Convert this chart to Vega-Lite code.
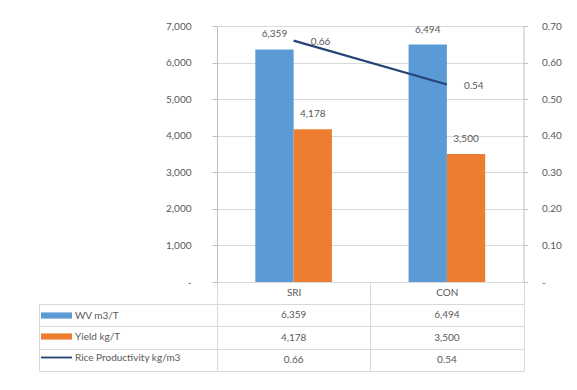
{
  "$schema": "https://vega.github.io/schema/vega-lite/v6.json",
  "background": "white",
  "padding": {"left": 38, "top": 21, "right": 8, "bottom": 8},
  "config": {
    "font": "Lato",
    "view": {"stroke": null},
    "axis": {"labelColor": "#595959", "labelFontSize": 10, "labelFont": "Lato"},
    "text": {"font": "Lato", "fontSize": 10, "color": "#595959"}
  },
  "datasets": {
    "rice": [
      {"system": "SRI", "series": "WV m3/T", "value": 6359},
      {"system": "SRI", "series": "Yield kg/T", "value": 4178},
      {"system": "SRI", "series": "Rice Productivity kg/m3", "value": 0.66},
      {"system": "CON", "series": "WV m3/T", "value": 6494},
      {"system": "CON", "series": "Yield kg/T", "value": 3500},
      {"system": "CON", "series": "Rice Productivity kg/m3", "value": 0.54}
    ]
  },
  "bounds": "flush",
  "spacing": 22,
  "vconcat": [
    {
      "width": 306.5,
      "height": 256,
      "data": {"name": "rice"},
      "encoding": {
        "x": {
          "field": "system", "type": "nominal", "sort": ["SRI", "CON"],
          "scale": {"type": "band", "paddingInner": 0, "paddingOuter": 0},
          "axis": {
            "orient": "bottom", "title": null, "labelAngle": 0,
            "tickBand": "extent", "ticks": true, "tickSize": 21, "tickColor": "#d9d9d9",
            "domainColor": "#d9d9d9", "labelPadding": -15.5, "grid": false
          }
        }
      },
      "layer": [
        {
          "transform": [{"filter": "datum.series !== 'Rice Productivity kg/m3'"}],
          "encoding": {
            "xOffset": {
              "field": "series", "type": "nominal", "sort": ["WV m3/T", "Yield kg/T"],
              "scale": {"paddingInner": 0, "paddingOuter": 1.1}
            },
            "y": {
              "field": "value", "type": "quantitative",
              "scale": {"domain": [0, 7000]},
              "axis": {
                "title": null, "values": [0, 1000, 2000, 3000, 4000, 5000, 6000, 7000],
                "labelExpr": "datum.value === 0 ? '-' : format(datum.value, ',')",
                "grid": true, "gridColor": "#d9d9d9", "domainColor": "#bfbfbf",
                "tickColor": "#bfbfbf", "tickSize": 5, "labelPadding": 21
              }
            }
          },
          "layer": [
            {
              "mark": {"type": "bar"},
              "encoding": {
                "color": {
                  "field": "series", "type": "nominal",
                  "scale": {
                    "domain": ["WV m3/T", "Yield kg/T", "Rice Productivity kg/m3"],
                    "range": ["#5B9BD5", "#ED7D31", "#264478"]
                  },
                  "legend": {
                    "orient": "none", "legendX": -176, "legendY": 274,
                    "title": null, "direction": "vertical", "padding": 0,
                    "symbolType": "M-1,-0.2H1V0.2H-1Z", "symbolSize": 961,
                    "symbolStrokeWidth": 0, "rowPadding": -7.5, "labelOffset": 3,
                    "labelFontSize": 10, "labelColor": "#595959", "labelLimit": 220,
                    "encode": {
                      "symbols": {
                        "update": {
                          "fill": {"scale": "color", "field": "value"},
                          "fillOpacity": {"value": 1},
                          "shape": {"signal": "datum.value === 'Rice Productivity kg/m3' ? 'M-1,-0.06H1V0.06H-1Z' : 'M-1,-0.2H1V0.2H-1Z'"}
                        }
                      }
                    }
                  }
                }
              }
            },
            {
              "mark": {"type": "text", "baseline": "middle", "dy": -15},
              "encoding": {
                "text": {"field": "value", "type": "quantitative", "format": ","}
              }
            }
          ]
        },
        {
          "transform": [{"filter": "datum.series === 'Rice Productivity kg/m3'"}],
          "encoding": {
            "y": {
              "field": "value", "type": "quantitative",
              "scale": {"domain": [0, 0.7]},
              "axis": {
                "orient": "right", "title": null,
                "values": [0, 0.1, 0.2, 0.3, 0.4, 0.5, 0.6, 0.7],
                "labelExpr": "datum.value === 0 ? '-' : format(datum.value, '.2f')",
                "grid": false, "domainColor": "#bfbfbf", "tickColor": "#bfbfbf",
                "tickSize": 4, "labelPadding": 14
              }
            }
          },
          "layer": [
            {
              "mark": {"type": "line", "strokeWidth": 2.25},
              "encoding": {
                "color": {"field": "series", "type": "nominal"}
              }
            },
            {
              "mark": {"type": "text", "align": "left", "baseline": "middle", "dx": 17, "dy": 1},
              "encoding": {
                "text": {"field": "value", "type": "quantitative", "format": ".2f"}
              }
            }
          ]
        }
      ],
      "resolve": {"scale": {"y": "independent"}}
    },
    {
      "width": 306.5,
      "height": 67,
      "data": {"name": "rice"},
      "transform": [
        {"calculate": "datum.series === 'Rice Productivity kg/m3' ? format(datum.value, '.2f') : format(datum.value, ',')", "as": "cell"}
      ],
      "layer": [
        {
          "mark": {"type": "text"},
          "encoding": {
            "x": {
              "field": "system", "type": "nominal", "sort": ["SRI", "CON"],
              "scale": {"type": "band", "paddingInner": 0, "paddingOuter": 0},
              "axis": {
                "orient": "bottom", "tickBand": "extent", "grid": true, "gridColor": "#d9d9d9",
                "labels": false, "ticks": false, "domain": false, "title": null
              }
            },
            "y": {
              "field": "series", "type": "nominal",
              "sort": ["WV m3/T", "Yield kg/T", "Rice Productivity kg/m3"],
              "scale": {"type": "band", "paddingInner": 0, "paddingOuter": 0},
              "axis": {
                "tickBand": "extent", "grid": true, "gridColor": "#d9d9d9",
                "ticks": true, "tickSize": 178, "tickColor": "#d9d9d9",
                "labels": false, "domain": false, "title": null
              }
            },
            "text": {"field": "cell", "type": "nominal"}
          }
        },
        {
          "mark": {"type": "text", "text": ""},
          "encoding": {
            "y": {
              "field": "series", "type": "nominal",
              "scale": {"type": "band", "paddingInner": 0, "paddingOuter": 0},
              "axis": {
                "orient": "left", "offset": 178, "domain": true, "domainColor": "#d9d9d9",
                "ticks": false, "labels": false, "grid": false, "title": null
              }
            }
          }
        }
      ],
      "resolve": {"scale": {"y": "independent"}, "axis": {"y": "independent"}}
    }
  ]
}
